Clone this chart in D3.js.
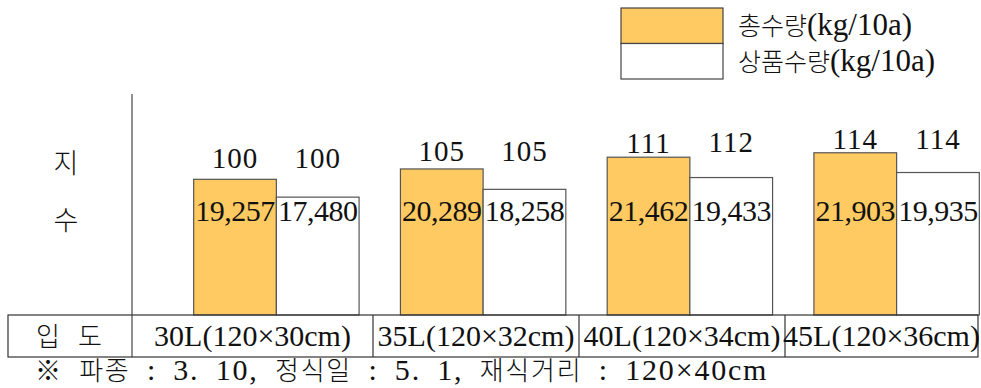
<!DOCTYPE html>
<html lang="ko">
  <head>
    <meta charset="UTF-8" />
    <title>입도별 수량</title>
    <script src="https://cdnjs.cloudflare.com/ajax/libs/d3/7.8.5/d3.min.js"></script>
    <style>
      body { margin: 0; background: #fff; }
      text {
        font-family: "Liberation Serif", "Noto Sans CJK KR", serif;
        fill: #111;
      }
      .ko {
        font-family: "Noto Sans CJK KR", sans-serif;
        font-weight: 300;
      }
    </style>
  </head>
  <body>
    <div id="chart"></div>
    <script>
      // data
      const categories = ["30L(120×30cm)", "35L(120×32cm)", "40L(120×34cm)", "45L(120×36cm)"];
      const totalYield = [19257, 20289, 21462, 21903];
      const marketYield = [17480, 18258, 19433, 19935];
      const totalIndex = [100, 105, 111, 114];
      const marketIndex = [100, 105, 112, 114];
      const seriesNames = ["총수량(kg/10a)", "상품수량(kg/10a)"];
      const colors = ["#ffca61", "#ffffff"];

      const width = 981, height = 388;
      const baseY = 315;

      const svg = d3.select("#chart").append("svg")
        .attr("width", width).attr("height", height);

      // split text into hangul / latin runs so each gets its own font size
      function mixedText(sel, str, koSize, enSize) {
        const runs = str.match(/[\uAC00-\uD7A3\u203B]+|[^\uAC00-\uD7A3\u203B]+/g);
        runs.forEach(r => {
          const ko = /[\uAC00-\uD7A3\u203B]/.test(r);
          sel.append("tspan")
            .attr("class", ko ? "ko" : null)
            .style("font-size", (ko ? koSize : enSize) + "px")
            .text(r);
        });
        return sel;
      }

      const rows = categories.map((c, i) => ({
        cat: c,
        vals: [
          { s: 0, v: totalYield[i], idx: totalIndex[i] },
          { s: 1, v: marketYield[i], idx: marketIndex[i] }
        ]
      }));

      const x0 = d3.scaleBand().domain(categories).range([173, 1000])
        .paddingInner(0.2).paddingOuter(0.1);
      const x1 = d3.scaleBand().domain([0, 1]).range([0, x0.bandwidth()]);
      const y = d3.scaleLinear().domain([5730, 22000]).range([baseY, 151.8]);
      const yIdx = d3.scaleLinear().domain([100, 114]).range([168, 149]);
      const fmt = d3.format(",");

      // bars
      const groups = svg.selectAll(".grp").data(rows).enter().append("g")
        .attr("transform", d => `translate(${x0(d.cat)},0)`);

      groups.selectAll("rect").data(d => d.vals).enter().append("rect")
        .attr("x", d => x1(d.s))
        .attr("y", d => y(d.v))
        .attr("width", x1.bandwidth())
        .attr("height", d => baseY - y(d.v))
        .attr("fill", d => colors[d.s])
        .attr("stroke", "#555")
        .attr("stroke-width", 1.2);

      // value labels
      groups.selectAll(".val").data(d => d.vals).enter().append("text")
        .attr("x", d => x1(d.s) + x1.bandwidth() / 2)
        .attr("y", 221)
        .attr("text-anchor", "middle")
        .style("font-size", "30px")
        .style("letter-spacing", "-0.5px")
        .text(d => fmt(d.v));

      // index labels
      groups.selectAll(".idx").data(d => d.vals).enter().append("text")
        .attr("x", d => x1(d.s) + x1.bandwidth() / 2)
        .attr("y", d => yIdx(d.idx))
        .attr("text-anchor", "middle")
        .style("font-size", "29px")
        .style("letter-spacing", "1px")
        .text(d => d.idx);

      // y label + axis line
      svg.append("line").attr("x1", 132).attr("x2", 132)
        .attr("y1", 94).attr("y2", 357).attr("stroke", "#222");
      ["지", "수"].forEach((t, i) => {
        svg.append("text").attr("class", "ko").attr("x", 66).attr("y", 173 + i * 57)
          .attr("text-anchor", "middle")
          .style("font-size", "27px").text(t);
      });

      // table
      const tx = d3.scaleBand().domain(categories).range([167, 991]);
      const tTop = baseY, tBot = 357;
      const tLeft = 8, tRight = 978, firstCol = 132;
      svg.append("rect").attr("x", tLeft).attr("y", tTop)
        .attr("width", tRight - tLeft).attr("height", tBot - tTop)
        .attr("fill", "none").attr("stroke", "#333").attr("stroke-width", 1.2);
      categories.slice(1).forEach(c => {
        svg.append("line").attr("x1", tx(c)).attr("x2", tx(c))
          .attr("y1", tTop).attr("y2", tBot).attr("stroke", "#333").attr("stroke-width", 1.2);
      });
      svg.append("text").attr("class", "ko").attr("x", 69).attr("y", 346)
        .attr("text-anchor", "middle").style("font-size", "26px")
        .style("letter-spacing", "18px").attr("dx", 9)
        .text("입도");
      categories.forEach((c, i) => {
        const l = i === 0 ? firstCol : tx(c);
        const r = Math.min(tx(c) + tx.bandwidth(), tRight);
        svg.append("text").attr("x", (l + r) / 2).attr("y", 346)
          .attr("text-anchor", "middle").style("font-size", "30px")
          .text(c);
      });

      // footnote
      const foot = svg.append("text").attr("x", 35).attr("y", 380)
        .style("letter-spacing", "1.8px").style("word-spacing", "7px");
      mixedText(foot, "※ 파종 : 3. 10, 정식일 : 5. 1, 재식거리 : 120×40cm", 26, 30);

      // legend
      const legend = svg.selectAll(".leg").data(seriesNames).enter().append("g")
        .attr("transform", (d, i) => `translate(621,${8 + i * 35.5})`);
      legend.append("rect").attr("width", 102).attr("height", 35.5)
        .attr("fill", (d, i) => colors[i]).attr("stroke", "#444").attr("stroke-width", 1.2);
      legend.append("text").attr("x", 117).attr("y", 27)
        .each(function (d) { mixedText(d3.select(this), d, 25, 31); });
    </script>
  </body>
</html>
